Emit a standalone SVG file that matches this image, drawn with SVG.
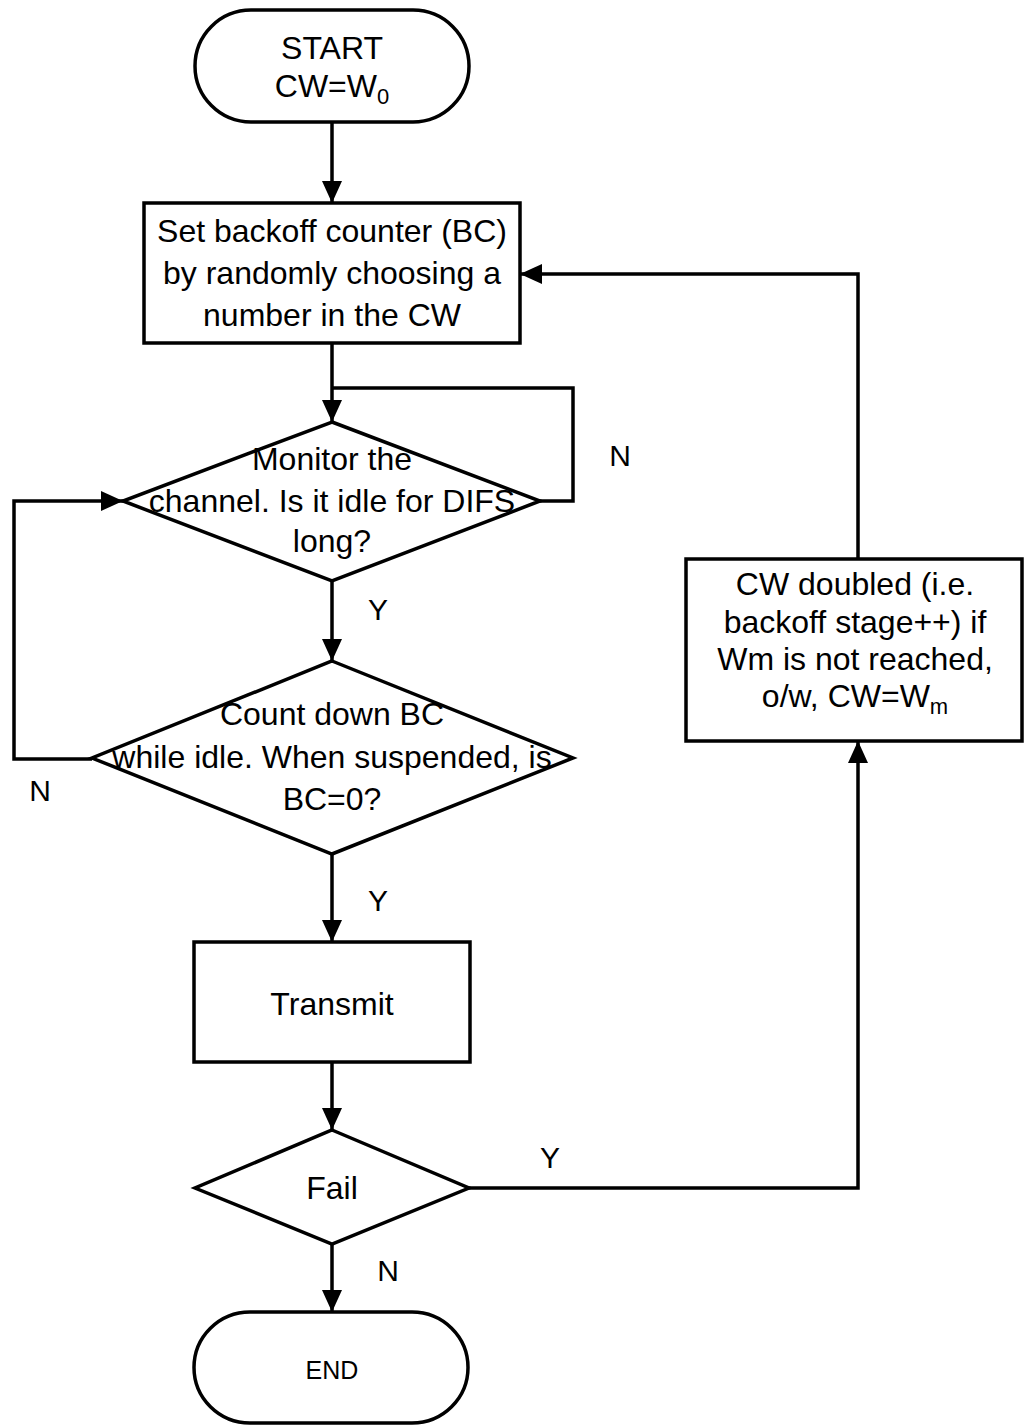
<svg xmlns="http://www.w3.org/2000/svg" width="1024" height="1426" viewBox="0 0 1024 1426">
  <style>
    .shape { fill: #ffffff; stroke: #000000; stroke-width: 3.5; }
    .wire { fill: none; stroke: #000000; stroke-width: 3.5; }
    .txt { font-family: "Liberation Sans", Arial, sans-serif; font-size: 32px; fill: #000000; text-anchor: middle; }
    .lbl { font-family: "Liberation Sans", Arial, sans-serif; font-size: 30px; fill: #000000; text-anchor: middle; }
    .sub { font-size: 22px; }
  </style>
  <defs>
    <marker id="arrow" markerUnits="userSpaceOnUse" markerWidth="22" markerHeight="20" refX="22" refY="10" orient="auto">
      <path d="M0,0 L22,10 L0,20 Z" fill="#000000"/>
    </marker>
  </defs>

  <!-- connectors -->
  <g id="connectors">
    <path class="wire" d="M332,123 V203" marker-end="url(#arrow)"/>
    <path class="wire" d="M332,343 V422" marker-end="url(#arrow)"/>
    <path class="wire" d="M540,501 H573 V388 H332"/>
    <path class="wire" d="M332,581 V661" marker-end="url(#arrow)"/>
    <path class="wire" d="M92,759 H14 V501 H123" marker-end="url(#arrow)"/>
    <path class="wire" d="M332,855 V942" marker-end="url(#arrow)"/>
    <path class="wire" d="M332,1062 V1130" marker-end="url(#arrow)"/>
    <path class="wire" d="M332,1244 V1312" marker-end="url(#arrow)"/>
    <path class="wire" d="M469,1188 H858 V741" marker-end="url(#arrow)"/>
    <path class="wire" d="M858,559 V274 H520" marker-end="url(#arrow)"/>
    <text class="lbl" x="620" y="466">N</text>
    <text class="lbl" x="378" y="620">Y</text>
    <text class="lbl" x="40" y="801">N</text>
    <text class="lbl" x="378" y="911">Y</text>
    <text class="lbl" x="550" y="1168">Y</text>
    <text class="lbl" x="388" y="1281">N</text>
  </g>

  <!-- start terminal -->
  <g id="start">
    <rect class="shape" x="195" y="10" width="274" height="112" rx="56" ry="56"/>
    <text class="txt" x="332" y="59">START</text>
    <text class="txt" x="332" y="97">CW=W<tspan class="sub" dy="7">0</tspan></text>
  </g>

  <!-- set backoff counter -->
  <g id="set-bc">
    <rect class="shape" x="144" y="203" width="376" height="140"/>
    <text class="txt" x="332" y="242">Set backoff counter (BC)</text>
    <text class="txt" x="332" y="284">by randomly choosing a</text>
    <text class="txt" x="332" y="326">number in the CW</text>
  </g>

  <!-- channel idle decision -->
  <g id="monitor">
    <polygon class="shape" points="332,422 540,501 332,581 123,501"/>
    <text class="txt" x="332" y="470">Monitor the</text>
    <text class="txt" x="332" y="512">channel. Is it idle for DIFS</text>
    <text class="txt" x="332" y="552">long?</text>
  </g>

  <!-- countdown decision -->
  <g id="countdown">
    <polygon class="shape" points="332,661 573,758 332,854 92,758"/>
    <text class="txt" x="332" y="725">Count down BC</text>
    <text class="txt" x="332" y="768">while idle. When suspended, is</text>
    <text class="txt" x="332" y="810">BC=0?</text>
  </g>

  <!-- transmit -->
  <g id="transmit">
    <rect class="shape" x="194" y="942" width="276" height="120"/>
    <text class="txt" x="332" y="1015">Transmit</text>
  </g>

  <!-- fail decision -->
  <g id="fail">
    <polygon class="shape" points="332,1130 469,1188 332,1244 195,1188"/>
    <text class="txt" x="332" y="1199">Fail</text>
  </g>

  <!-- end terminal -->
  <g id="end">
    <rect class="shape" x="194" y="1312" width="274" height="111" rx="56" ry="56"/>
    <text class="txt" x="332" y="1379" style="font-size:25px">END</text>
  </g>

  <!-- contention window update -->
  <g id="cw-update">
    <rect class="shape" x="686" y="559" width="336" height="182"/>
    <text class="txt" x="855" y="595">CW doubled (i.e.</text>
    <text class="txt" x="855" y="633">backoff stage++) if</text>
    <text class="txt" x="855" y="670">Wm is not reached,</text>
    <text class="txt" x="855" y="707">o/w, CW=W<tspan class="sub" dy="7">m</tspan></text>
  </g>
</svg>
